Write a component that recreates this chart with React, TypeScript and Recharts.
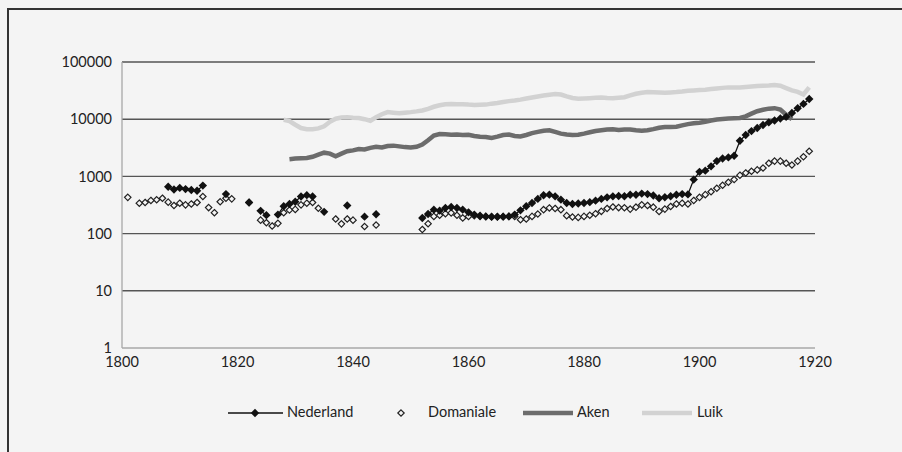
import { CartesianGrid, Line, LineChart, XAxis, YAxis } from 'recharts'

// yearly values, index 0 = 1800; null = no observation that year
const FIRST_YEAR = 1800
const nederland: (number | null)[] = [
  null, null, null, null, null, null, null, null, 660, 590,
  630, 600, 580, 560, 690, null, null, null, 490, null,
  null, null, 350, null, 250, 210, null, 215, 300, 330,
  360, 445, 470, 445, null, 240, null, null, null, 310,
  null, null, 198, null, 218, null, null, null, null, null,
  null, null, 187, 220, 262, 252, 281, 292, 281, 262,
  235, 215, 205, 200, 198, 198, 198, 200, 215, 255,
  300, 343, 404, 467, 480, 448, 392, 343, 330, 335,
  343, 355, 377, 404, 430, 448, 455, 451, 478, 478,
  500, 490, 464, 416, 433, 451, 478, 490, 485, 880,
  1200, 1260, 1500, 1850, 2050, 2150, 2300, 4200, 5300, 6200,
  7000, 7900, 8800, 9500, 10300, 11000, 12800, 15500, 18500, 22500,
]
const domaniale: (number | null)[] = [
  null, 430, null, 340, 350, 380, 390, 415, 355, 310,
  340, 318, 330, 350, 445, 285, 232, 360, 415, 405,
  null, null, 350, null, 172, 155, 136, 151, 232, 258,
  265, 318, 340, 350, 277, null, null, 180, 148, 180,
  172, null, 133, null, 141, null, null, null, null, null,
  null, null, 118, 149, 200, 209, 223, 230, 209, 188,
  200, 205, 200, 198, 196, 196, 198, 200, 200, 175,
  180, 200, 220, 262, 281, 275, 262, 206, 195, 192,
  200, 209, 223, 245, 275, 292, 285, 283, 268, 290,
  318, 310, 290, 244, 268, 298, 330, 340, 330, 380,
  430, 480, 540, 620, 700, 790, 880, 1050, 1150, 1230,
  1300, 1400, 1700, 1850, 1850, 1700, 1580, 1850, 2200, 2750,
]
const AKEN_FROM = 1829
const aken: number[] = [
  2000,
  2050, 2080, 2100, 2200, 2400, 2600, 2500, 2250, 2500, 2750,
  2850, 3000, 2950, 3150, 3300, 3200, 3400, 3450, 3350, 3250,
  3200, 3300, 3600, 4300, 5200, 5500, 5450, 5350, 5400, 5300,
  5350, 5100, 4950, 4900, 4700, 4950, 5300, 5400, 5100, 5000,
  5300, 5700, 6000, 6300, 6400, 6000, 5600, 5400, 5300, 5350,
  5600, 5900, 6200, 6400, 6600, 6700, 6500, 6600, 6600, 6400,
  6300, 6400, 6700, 7100, 7300, 7300, 7400, 7800, 8200, 8500,
  8700, 9000, 9500, 9900, 10100, 10300, 10400, 10500, 11200, 12500,
  13800, 14600, 15300, 15600, 14800, 12000, 10000,
]
const LUIK_FROM = 1828
const luik: number[] = [
  9800, 9300,
  8000, 7000, 6700, 6700, 6900, 7500, 9000, 10200, 10700, 10800,
  10600, 10500, 10000, 9400, 10800, 12200, 13300, 13000, 12700, 13000,
  13300, 13700, 14200, 15200, 16500, 17500, 18200, 18400, 18300, 18300,
  18000, 17800, 17900, 18000, 18700, 19200, 20000, 20700, 21200, 22000,
  23000, 24000, 25000, 26000, 26800, 27500, 27000, 25000, 23500, 22800,
  23000, 23300, 23600, 24000, 23500, 23300, 23700, 24200, 26000, 27800,
  29000, 29800, 29500, 29200, 29000, 29400, 29800, 30500, 31400, 31900,
  32300, 32800, 33600, 34500, 35300, 36000, 36000, 36000, 36700, 37400,
  37900, 38400, 38800, 39500, 38500, 35000, 32000, 30000, 27000, 36000,
]

const xTicks = [1800, 1820, 1840, 1860, 1880, 1900, 1920]
const yTicks = [1, 10, 100, 1000, 10000, 100000]

const rows = nederland.map((v, i) => {
  const year = FIRST_YEAR + i
  return {
    year,
    nederland: v,
    domaniale: domaniale[i],
    aken: aken[year - AKEN_FROM] ?? null,
    luik: luik[year - LUIK_FROM] ?? null,
  }
})

const FONT = 'Lato, "Open Sans", sans-serif'
const INK = '#222'

function diamond(cx: number, cy: number, r: number) {
  return `M${cx},${cy - r}L${cx + r},${cy}L${cx},${cy + r}L${cx - r},${cy}Z`
}

function FilledDot(props: any) {
  const { cx, cy, index, value } = props
  if (value == null || cy == null || Number.isNaN(cy)) return <g key={index} />
  return <path key={index} d={diamond(cx, cy, 4.2)} fill="#111" />
}

function OpenDot(props: any) {
  const { cx, cy, index, value } = props
  if (value == null || cy == null || Number.isNaN(cy)) return <g key={index} />
  return <path key={index} d={diamond(cx, cy, 3.2)} fill="#f4f4f4" stroke="#222" strokeWidth={1.2} />
}

function LegendRow() {
  const txt = { position: 'absolute' as const, top: 403, fontSize: 14.5, color: INK, fontFamily: FONT }
  return (
    <>
      <svg style={{ position: 'absolute', left: 0, top: 0 }} width={902} height={452}>
        <line x1={228} x2={283} y1={413} y2={413} stroke="#111" strokeWidth={1.3} />
        <path d={diamond(255, 413, 4.2)} fill="#111" />
        <path d={diamond(401, 413, 3.2)} fill="#f4f4f4" stroke="#222" strokeWidth={1.2} />
        <line x1={523} x2={573} y1={413} y2={413} stroke="#6c6c6c" strokeWidth={4.5} />
        <line x1={642} x2={692} y1={413} y2={413} stroke="#d2d2d2" strokeWidth={4.5} />
      </svg>
      <span style={{ ...txt, left: 287 }}>Nederland</span>
      <span style={{ ...txt, left: 428 }}>Domaniale</span>
      <span style={{ ...txt, left: 577 }}>Aken</span>
      <span style={{ ...txt, left: 697 }}>Luik</span>
    </>
  )
}

export default function App() {
  return (
    <div
      style={{
        position: 'absolute', left: 0, top: 0, width: 902, height: 452,
        background: '#f4f4f4', fontFamily: FONT, overflow: 'hidden',
      }}
    >
      <div style={{
        position: 'absolute', left: 7, top: 8, width: 902, height: 452,
        borderTop: '2px solid #333', borderLeft: '2px solid #333',
      }} />
      <div style={{ position: 'absolute', left: 0, top: 0 }}>
        <LineChart width={902} height={452} data={rows}
          margin={{ top: 62, right: 87, bottom: 74, left: 0 }}>
          <CartesianGrid vertical={false} horizontalValues={[10, 100, 1000, 10000, 100000]}
            stroke="#555" strokeWidth={1.4} />
          <XAxis dataKey="year" type="number" domain={[1800, 1920]} ticks={xTicks} interval={0}
            tickLine={false} axisLine={{ stroke: '#a8a8a8', strokeWidth: 1.3 }} height={30}
            tick={{ fontSize: 14.5, fill: INK, fontFamily: FONT, dy: 1 }} />
          <YAxis type="number" scale="log" domain={[1, 100000]} ticks={yTicks} interval={0}
            allowDataOverflow width={122} tickLine={false} tickMargin={4}
            axisLine={{ stroke: '#a8a8a8', strokeWidth: 1.3 }}
            tick={{ fontSize: 14.5, fill: INK, fontFamily: FONT }} />
          <Line dataKey="luik" stroke="#d2d2d2" strokeWidth={4.5} dot={false} activeDot={false}
            connectNulls={false} isAnimationActive={false} />
          <Line dataKey="aken" stroke="#6c6c6c" strokeWidth={4.5} dot={false} activeDot={false}
            connectNulls={false} isAnimationActive={false} />
          <Line dataKey="domaniale" stroke="none" strokeWidth={0} dot={OpenDot} activeDot={false}
            connectNulls={false} isAnimationActive={false} />
          <Line dataKey="nederland" stroke="#111" strokeWidth={1.3} dot={FilledDot} activeDot={false}
            connectNulls={false} isAnimationActive={false} />
        </LineChart>
      </div>
      <LegendRow />
    </div>
  )
}
